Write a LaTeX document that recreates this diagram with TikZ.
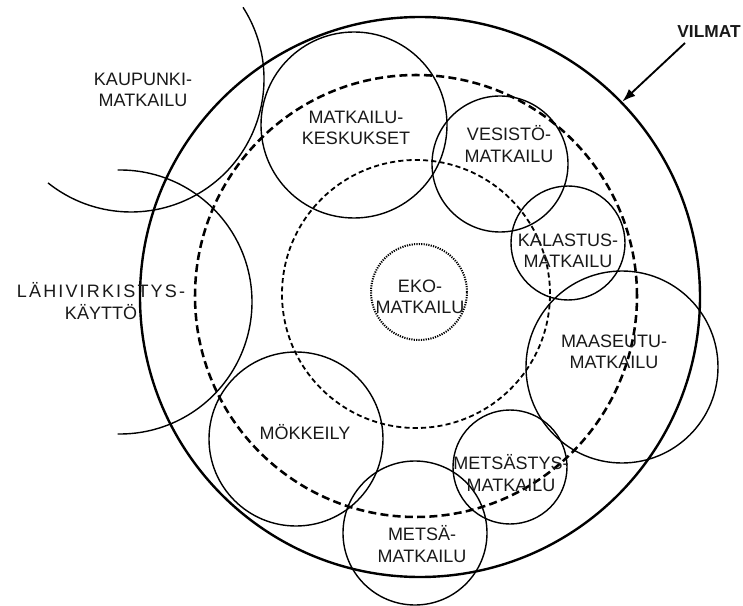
\documentclass[tikz,border=0pt]{standalone}
\usepackage{fontspec}
\setmainfont{Liberation Sans}
\usetikzlibrary{arrows.meta}
\begin{document}
\begin{tikzpicture}[x=0.75pt,y=-0.75pt,
  ring/.style={circle,draw,inner sep=0pt,line width=1.05pt},
  bigring/.style={circle,draw,inner sep=0pt,line width=1.8pt},
  outerdash/.style={circle,draw,inner sep=0pt,line width=1.9pt,dash pattern=on 6pt off 3.2pt},
  innerdash/.style={circle,draw,inner sep=0pt,line width=1.35pt,dash pattern=on 3.8pt off 2.4pt},
  dotring/.style={circle,draw,inner sep=0pt,line width=1.5pt,dash pattern=on 0.9pt off 0.9pt},
  arcline/.style={line width=1.05pt},
  lbl/.style={align=center,font=\fontsize{13.5}{16}\selectfont,inner sep=1pt,text=black!90},
  boldlbl/.style={font=\bfseries\fontsize{13}{15}\selectfont,inner sep=1pt,text=black!90}]
\useasboundingbox (0,0) rectangle (743,606);
\fill[white] (0,0) rectangle (743,606);

% main rings
\node[bigring,minimum size=420pt] (vc) at (420,297) {};
\node[outerdash,minimum size=331.5pt] (od) at (416,296) {};
\node[innerdash,minimum size=201pt] (id) at (416,294) {};
\node[dotring,minimum size=72pt] (ekoc) at (419,292) {};

% theme circles
\node[ring,minimum size=139.5pt] (keskc) at (354,125) {};
\node[ring,minimum size=102pt] (vesc) at (500,164) {};
\node[ring,minimum size=85.5pt] (kalc) at (568,243) {};
\node[ring,minimum size=144pt] (maac) at (622,367) {};
\node[ring,minimum size=85.5pt] (metsc) at (510,467) {};
\node[ring,minimum size=108pt] (metc) at (415,533) {};
\node[ring,minimum size=130.5pt] (mokc) at (296,439) {};

% outer arcs
\draw[arcline] ([shift={(131,79)}]-32.6:133) arc[start angle=-32.6,end angle=128.6,radius=133];
\draw[arcline] ([shift={(120,302)}]-91:132) arc[start angle=-91,end angle=91,radius=132];

% labels
\node[lbl] (kaup) at (143,90) {KAUPUNKI-\\MATKAILU};
\node[lbl] (lahi) at (101,301) {{\addfontfeature{LetterSpace=12}LÄHIVIRKISTYS-}\\KÄYTTÖ};
\node[lbl] (kesk) at (356,128) {MATKAILU-\\KESKUKSET};
\node[lbl] (ves) at (509,144) {VESISTÖ-\\MATKAILU};
\node[lbl] (kal) at (568,251) {KALASTUS-\\MATKAILU};
\node[lbl] (eko) at (420,297) {EKO-\\MATKAILU};
\node[lbl] (maa) at (614,352) {MAASEUTU-\\MATKAILU};
\node[lbl] (mok) at (305,432) {MÖKKEILY};
\node[lbl] (metsa) at (511,473) {METSÄSTYS-\\MATKAILU};
\node[lbl] (met) at (422,544) {METSÄ-\\MATKAILU};
\node[boldlbl] (vil) at (709,32) {VILMAT};

% arrow
\coordinate (as) at (685,43);
\draw[line width=1.4pt,-{Latex[length=10pt,width=7pt]}] (as) -- (vc.44);
\end{tikzpicture}
\end{document}
